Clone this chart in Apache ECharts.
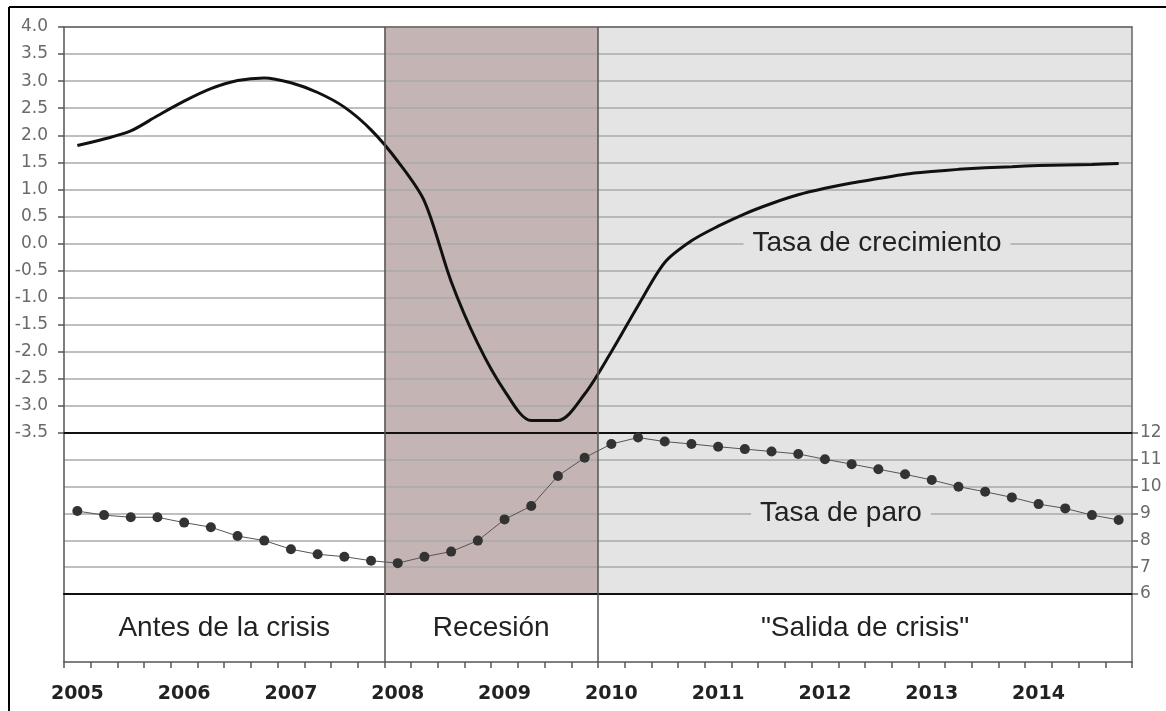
<!DOCTYPE html>
<html>
<head>
<meta charset="utf-8">
<script src="https://cdn.jsdelivr.net/npm/echarts@6/dist/echarts.min.js"></script>
<style>
html,body{margin:0;padding:0;background:#fff}
#chart{width:1166px;height:711px}
</style>
</head>
<body>
<div id="chart"></div>
<script>
// datos trimestrales 2005-2014
var years = ['2005','2006','2007','2008','2009','2010','2011','2012','2013','2014'];
var quarterNames = ['T1','T2','T3','T4'];

// tasa de crecimiento (eje izquierdo)
var crecimiento = [1.81, 1.93, 2.08, 2.36, 2.63, 2.86, 3.01, 3.06, 2.97, 2.79,
                   2.52, 2.10, 1.52, 0.78, -0.70, -1.85, -2.72, -3.27, -3.27, -2.78,
                   -2.00, -1.15, -0.35, 0.05, 0.32, 0.55, 0.74, 0.90, 1.02, 1.12,
                   1.20, 1.28, 1.33, 1.37, 1.40, 1.42, 1.44, 1.45, 1.46, 1.48];

// tasa de paro (eje derecho)
var paro = [9.09, 8.94, 8.86, 8.86, 8.66, 8.49, 8.16, 7.99, 7.67, 7.48,
            7.39, 7.24, 7.15, 7.39, 7.58, 7.99, 8.78, 9.28, 10.40, 11.08,
            11.59, 11.83, 11.68, 11.59, 11.49, 11.40, 11.31, 11.22, 11.02, 10.84,
            10.65, 10.46, 10.25, 10.00, 9.81, 9.60, 9.35, 9.19, 8.94, 8.76];

// fases
var fases = ['Antes de la crisis', 'Recesión', '"Salida de crisis"'];
var faseInicio = ['2005', '2008', '2010'];
var faseFin = ['2008', '2010', '2015'];

var categorias = [];
for (var i = 0; i < years.length; i++) {
	for (var q = 0; q < quarterNames.length; q++) {
		categorias.push(years[i] + '-' + quarterNames[q]);
	}
}
function qIdx(y) { return (parseInt(y) - 2005) * 4; }

var fillColors = [null, '#c4b4b4', '#e4e4e4'];
var areaData = [], bandData = [], vLines = [];
for (var f = 0; f < fases.length; f++) {
	if (fillColors[f]) {
		areaData.push([{xAxis: qIdx(faseInicio[f]), itemStyle: {color: fillColors[f]}}, {xAxis: qIdx(faseFin[f])}]);
	}
	bandData.push([{xAxis: qIdx(faseInicio[f]), name: fases[f]}, {xAxis: qIdx(faseFin[f])}]);
	if (f > 0) vLines.push({xAxis: qIdx(faseInicio[f])});
}

var vLineStyle = {
	silent: true, symbol: ['none', 'none'], label: {show: false},
	lineStyle: {color: '#555', width: 1.5, type: 'solid'},
	data: vLines
};
var tickFont = {fontFamily: 'DejaVu Sans', fontSize: 17, color: '#6a6a6a'};
var gridLine = {show: true, lineStyle: {color: '#aaa', width: 1.5}};

var myChart = echarts.init(document.getElementById('chart'));
var option = {
	backgroundColor: '#fff',
	animation: false,
	graphic: [
		{type: 'line', shape: {x1: 9, y1: 7, x2: 1166, y2: 7}, style: {stroke: '#000', lineWidth: 2}},
		{type: 'line', shape: {x1: 9, y1: 7, x2: 9, y2: 711}, style: {stroke: '#000', lineWidth: 2}}
	],
	grid: [
		{left: 64, right: 34, top: 27, height: 406},
		{left: 64, right: 34, top: 433, height: 161},
		{left: 64, right: 34, top: 594, height: 68}
	],
	xAxis: [
		{type: 'category', gridIndex: 0, data: categorias, z: 1,
		 axisLine: {onZero: false, lineStyle: {color: '#111', width: 2}}, axisTick: {show: false}, axisLabel: {show: false}},
		{type: 'value', gridIndex: 0, min: 0, max: 40, position: 'top', z: 1,
		 axisLine: {show: true, onZero: false, lineStyle: {color: '#666', width: 1.5}}, axisTick: {show: false},
		 axisLabel: {show: false}, splitLine: {show: false}},
		{type: 'category', gridIndex: 1, data: categorias, z: 1,
		 axisLine: {onZero: false, lineStyle: {color: '#111', width: 2}}, axisTick: {show: false}, axisLabel: {show: false}},
		{type: 'value', gridIndex: 1, min: 0, max: 40, show: false},
		{type: 'category', gridIndex: 2, data: categorias, z: 1,
		 axisLine: {onZero: false, lineStyle: {color: '#555', width: 1.5}},
		 axisTick: {show: true, interval: 0, length: 6, lineStyle: {color: '#555', width: 1.5}},
		 axisLabel: {interval: 3, margin: 23, fontFamily: 'DejaVu Sans', fontWeight: 'bold', fontSize: 19, color: '#222',
		   formatter: function (v) { return v.slice(0, 4); }}},
		{type: 'value', gridIndex: 2, min: 0, max: 40, show: false}
	],
	yAxis: [
		{type: 'value', gridIndex: 0, min: -3.5, max: 4, interval: 0.5, position: 'left', z: 1,
		 axisLine: {show: true, onZero: false, lineStyle: {color: '#555', width: 1.5}},
		 axisTick: {show: true, length: 6, lineStyle: {color: '#555', width: 1.5}},
		 axisLabel: Object.assign({margin: 16, formatter: function (v) { return v.toFixed(1); }}, tickFont),
		 splitLine: gridLine},
		{type: 'value', gridIndex: 0, min: -3.5, max: 4, position: 'right', z: 1,
		 axisLine: {show: true, onZero: false, lineStyle: {color: '#666', width: 1.5}},
		 axisTick: {show: false}, axisLabel: {show: false}, splitLine: {show: false}},
		{type: 'value', gridIndex: 1, min: 6, max: 12, position: 'left', z: 1,
		 axisLine: {show: true, onZero: false, lineStyle: {color: '#555', width: 1.5}},
		 axisTick: {show: false}, axisLabel: {show: false}, splitLine: {show: false}},
		{type: 'value', gridIndex: 1, min: 6, max: 12, interval: 1, position: 'right', z: 1,
		 axisLine: {show: true, onZero: false, lineStyle: {color: '#666', width: 1.5}},
		 axisTick: {show: true, length: 6, lineStyle: {color: '#666', width: 1.5}},
		 axisLabel: Object.assign({margin: 8}, tickFont),
		 splitLine: gridLine},
		{type: 'value', gridIndex: 2, min: 0, max: 1, position: 'left', z: 1,
		 axisLine: {show: true, onZero: false, lineStyle: {color: '#555', width: 1.5}},
		 axisTick: {show: false}, axisLabel: {show: false}, splitLine: {show: false}},
		{type: 'value', gridIndex: 2, min: 0, max: 1, position: 'right', z: 1,
		 axisLine: {show: true, onZero: false, lineStyle: {color: '#666', width: 1.5}},
		 axisTick: {show: false}, axisLabel: {show: false}, splitLine: {show: false}}
	],
	series: [
		{ // sombreado zona superior
			type: 'line', xAxisIndex: 1, yAxisIndex: 0, data: [], silent: true,
			markArea: {silent: true, z: 0, data: areaData},
			markLine: vLineStyle,
			markPoint: {
				symbol: 'rect', symbolSize: 1, itemStyle: {color: 'rgba(0,0,0,0)'},
				label: {show: true, position: 'inside', fontFamily: 'Liberation Sans', fontSize: 28, color: '#222',
				  backgroundColor: '#e4e4e4', padding: [2, 9]},
				data: [{coord: [30.45, 0], value: 'Tasa de crecimiento'}]
			}
		},
		{ // sombreado zona inferior
			type: 'line', xAxisIndex: 3, yAxisIndex: 2, data: [], silent: true,
			markArea: {silent: true, z: 0, data: areaData},
			markLine: vLineStyle,
			markPoint: {
				symbol: 'rect', symbolSize: 1, itemStyle: {color: 'rgba(0,0,0,0)'},
				label: {show: true, position: 'inside', fontFamily: 'Liberation Sans', fontSize: 28, color: '#222',
				  backgroundColor: '#e4e4e4', padding: [2, 9]},
				data: [{coord: [29.1, 9], value: 'Tasa de paro'}]
			}
		},
		{ // franja de fases
			type: 'line', xAxisIndex: 5, yAxisIndex: 4, data: [], silent: true,
			markArea: {silent: true, itemStyle: {color: 'rgba(0,0,0,0)'},
				label: {show: true, position: 'inside', fontFamily: 'Liberation Sans', fontSize: 28, color: '#222'},
				data: bandData},
			markLine: vLineStyle
		},
		{
			name: 'Tasa de crecimiento', type: 'line', xAxisIndex: 0, yAxisIndex: 0,
			data: crecimiento, smooth: 0.3, showSymbol: false, z: 3,
			lineStyle: {color: '#111', width: 3}
		},
		{
			name: 'Tasa de paro', type: 'line', xAxisIndex: 2, yAxisIndex: 3,
			data: paro, symbol: 'circle', symbolSize: 10, z: 3,
			itemStyle: {color: '#333'},
			lineStyle: {color: '#555', width: 1}
		}
	]
};
myChart.setOption(option);
</script>
</body>
</html>
